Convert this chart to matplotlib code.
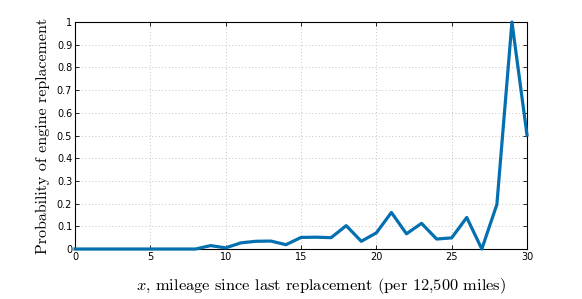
import matplotlib
matplotlib.use("Agg")
import matplotlib.pyplot as plt

plt.rcParams['mathtext.fontset'] = 'cm'

mileage = list(range(31))
prob = [0, 0, 0, 0, 0, 0, 0, 0, 0, 0.015, 0.005,
        0.027, 0.034, 0.035, 0.019, 0.051, 0.052, 0.050, 0.103, 0.034, 0.071,
        0.161, 0.067, 0.113, 0.044, 0.049, 0.139, 0.0, 0.196, 1.0, 0.502]
xticks = [0, 5, 10, 15, 20, 25, 30]
yticks = [0, 0.1, 0.2, 0.3, 0.4, 0.5, 0.6, 0.7, 0.8, 0.9, 1]
ytick_labels = ['0', '0.1', '0.2', '0.3', '0.4', '0.5', '0.6', '0.7', '0.8', '0.9', '1']

fig = plt.figure(figsize=(5.82, 2.99), dpi=100)
ax = fig.add_axes([0.1289, 0.1672, 0.7766, 0.7592])
ax.plot(mileage, prob, color='#0570b0', linewidth=2.3, clip_on=False, zorder=3)

ax.set_xlim(0, 30)
ax.set_ylim(0, 1)
ax.set_xticks(xticks)
ax.set_yticks(yticks)
ax.set_yticklabels(ytick_labels)
ax.tick_params(direction='in', length=3, width=0.6, labelsize=7, top=True, right=True, pad=2)
ax.grid(True, linestyle=(0, (1, 3)), color='#b0b0b0', linewidth=0.6)
for s in ax.spines.values():
    s.set_linewidth(0.8)

ax.set_xlabel(r'$x$, mileage since last replacement (per 12,500 miles)',
              fontfamily='cmr10', fontsize=11.8)
ax.xaxis.set_label_coords(0.545, -0.118)
ax.set_ylabel('Probability of engine replacement', fontfamily='cmr10', fontsize=11.5, labelpad=5)

fig.savefig('out.png', dpi=100)
